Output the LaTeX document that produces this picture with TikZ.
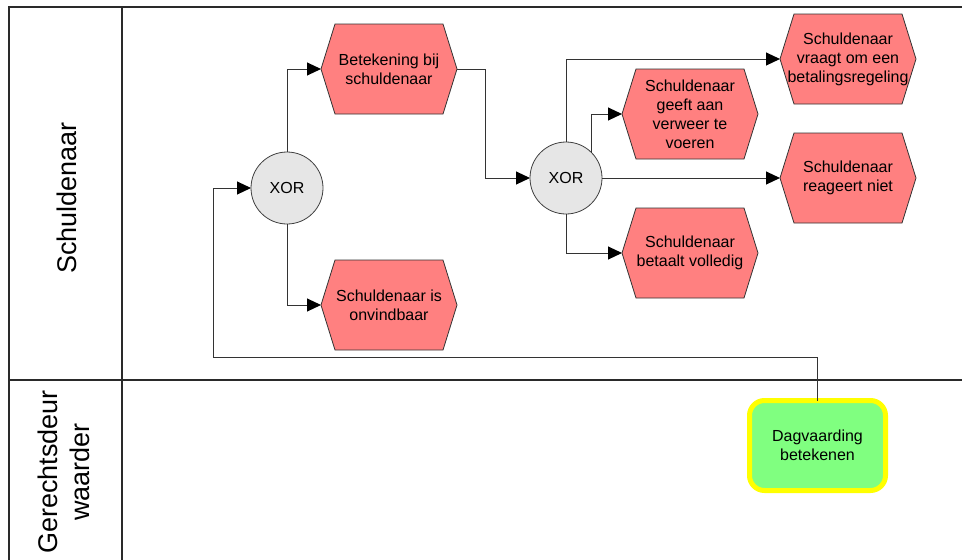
\documentclass[tikz,border=0pt]{standalone}
\usepackage{fontspec}
\setmainfont{Liberation Sans}
\usetikzlibrary{arrows.meta}
\definecolor{hexfill}{HTML}{FF8080}
\definecolor{xorfill}{HTML}{E6E6E6}
\definecolor{funcfill}{HTML}{80FF80}
\definecolor{funcborder}{HTML}{FFFF00}
\definecolor{lanecol}{HTML}{2A2A2A}
\definecolor{conncol}{HTML}{333333}
\tikzset{
  lane/.style={draw=lanecol, line width=1.4pt},
  hexbox/.style={minimum width=136pt, minimum height=90pt, inner sep=0pt, outer sep=0pt},
  hexline/.style={fill=hexfill, draw=black!80, line width=0.8pt, line join=miter},
  hextext/.style={align=center, font=\fontsize{16}{19}\selectfont, inner sep=0pt},
  xorgate/.style={circle, minimum size=72pt, inner sep=0pt, outer sep=0pt, fill=xorfill, draw=black!75, line width=0.8pt, font=\fontsize{16}{19}\selectfont},
  funcbox/.style={rounded corners=15pt, minimum width=136pt, minimum height=90pt, inner sep=0pt, outer sep=0pt, fill=funcfill, draw=funcborder, line width=5pt, align=center, font=\fontsize{16}{19}\selectfont},
  conn/.style={draw=conncol, line width=1pt, -{Triangle[length=14pt,width=13pt,color=black]}},
  lanelabel/.style={rotate=90, align=center, font=\fontsize{27}{32}\selectfont, inner sep=0pt}
}
\newcommand\hexnode[3]{%
  \node[hexbox] (#1) at (#2) {};
  \filldraw[hexline] (#1.west) -- ([xshift=14pt]#1.north west) -- ([xshift=-14pt]#1.north east) -- (#1.east) -- ([xshift=-14pt]#1.south east) -- ([xshift=14pt]#1.south west) -- cycle;
  \node[hextext] (#1t) at (#1.center) {#3};
}
\begin{document}
\begin{tikzpicture}[x=1pt, y=-1pt]
\useasboundingbox (0,0) rectangle (962,560);
% swimlanes
\draw[lane] (962,7) -- (9,7) -- (9,560);
\draw[lane] (122,7) -- (122,560);
\draw[lane] (9,380) -- (962,380);
\node[lanelabel] (lab1) at (67,198) {Schuldenaar};
\node[lanelabel] (lab2) at (64,472) {Gerechtsdeur\\waarder};
% events
\hexnode{bet}{389,69}{Betekening bij\\schuldenaar}
\hexnode{onv}{389,305}{Schuldenaar is\\onvindbaar}
\hexnode{vra}{848,59}{Schuldenaar\\vraagt om een\\betalingsregeling}
\hexnode{gee}{690,114}{Schuldenaar\\geeft aan\\verweer te\\voeren}
\hexnode{rea}{848,178}{Schuldenaar\\reageert niet}
\hexnode{btv}{690,253}{Schuldenaar\\betaalt volledig}
% gates
\node[xorgate] (x1) at (287,188) {XOR};
\node[xorgate] (x2) at (566,178) {XOR};
% function
\node[funcbox] (dag) at (817.5,445.5) {Dagvaarding\\betekenen};
\coordinate (loop) at (213,357);
\coordinate (bend) at (485,69);
% connectors
\draw[conn] (x1.north) |- (bet.west);
\draw[conn] (bet.east) -- (bend) |- (x2.west);
\draw[conn] (x1.south) |- (onv.west);
\draw[conn] (x2.north) |- (vra.west);
\draw[conn] (x2.north east) |- (gee.west);
\draw[conn] (x2.east) -- (rea.west);
\draw[conn] (x2.south) |- (btv.west);
\draw[conn] (dag.north) |- (loop) |- (x1.west);
\end{tikzpicture}
\end{document}
